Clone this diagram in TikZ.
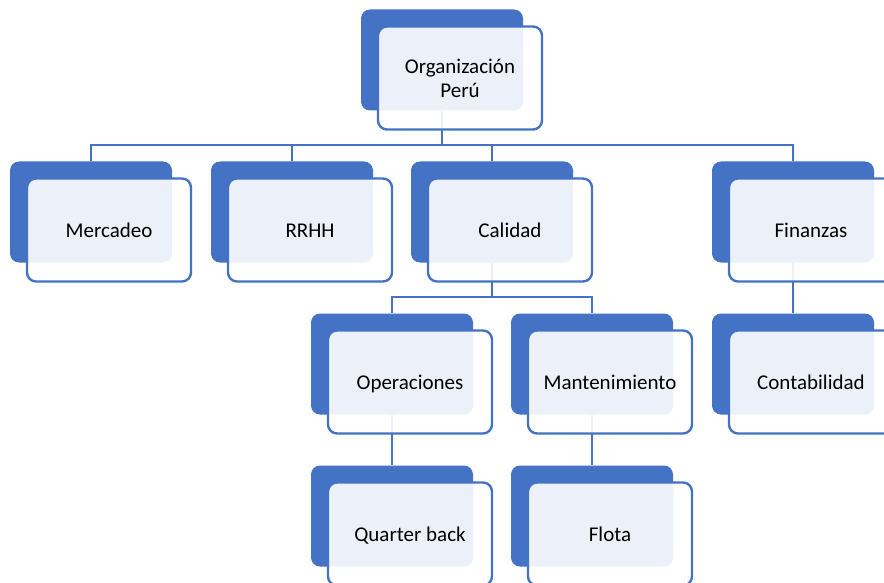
\documentclass[tikz,border=0pt]{standalone}
\usepackage{fontspec}
\setmainfont{Carlito}
\definecolor{sablue}{HTML}{4472C4}
\begin{document}
\begin{tikzpicture}[x=1pt,y=-1pt,
  backbox/.style={rectangle,rounded corners=9pt,fill=sablue,draw=none,
    minimum width=162pt,minimum height=101pt,inner sep=0pt},
  frontbox/.style={rectangle,rounded corners=9pt,draw=sablue,line width=2.4pt,
    fill=white,fill opacity=0.9,text opacity=1,
    minimum width=164pt,minimum height=103pt,inner sep=0pt,align=center,
    font=\fontsize{21}{24}\selectfont},
  oneline/.style={text height=14.5pt,text depth=0.5pt},
  link/.style={draw=sablue,line width=2.8pt}]
\useasboundingbox (0,0) rectangle (884,583);
\clip (0,0) rectangle (884,583);
% back boxes
\node[backbox] (orgB) at (442,60) {};
\node[backbox] (merB) at (91,212) {};
\node[backbox] (rrhB) at (292,212) {};
\node[backbox] (calB) at (492,212) {};
\node[backbox] (finB) at (793,212) {};
\node[backbox] (opeB) at (392,364) {};
\node[backbox] (manB) at (592,364) {};
\node[backbox] (conB) at (793,364) {};
\node[backbox] (quaB) at (392,516) {};
\node[backbox] (floB) at (592,516) {};
% connectors
\coordinate (bus1) at (0,145);
\coordinate (bus2) at (0,297);
\draw[link] (orgB.south) -- (orgB.south |- bus1);
\draw[link] (merB.north) |- (finB.north |- bus1) -- (finB.north);
\draw[link] (rrhB.north) -- (rrhB.north |- bus1);
\draw[link] (calB.north) -- (calB.north |- bus1);
\draw[link] (calB.south) -- (calB.south |- bus2);
\draw[link] (opeB.north) |- (manB.north |- bus2) -- (manB.north);
\draw[link] (finB.south) -- (conB.north);
\draw[link] (opeB.south) -- (quaB.north);
\draw[link] (manB.south) -- (floB.north);
% front boxes
\node[frontbox] (org) at (460,78) {Organización\\Perú};
\node[frontbox,oneline] (mer) at (109,230) {Mercadeo};
\node[frontbox,oneline] (rrh) at (310,230) {RRHH};
\node[frontbox,oneline] (cal) at (510,230) {Calidad};
\node[frontbox,oneline] (fin) at (811,230) {Finanzas};
\node[frontbox,oneline] (ope) at (410,382) {Operaciones};
\node[frontbox,oneline] (man) at (610,382) {Mantenimiento};
\node[frontbox,oneline] (con) at (811,382) {Contabilidad};
\node[frontbox,oneline] (qua) at (410,534) {Quarter back};
\node[frontbox,oneline] (flo) at (610,534) {Flota};
\end{tikzpicture}
\end{document}
